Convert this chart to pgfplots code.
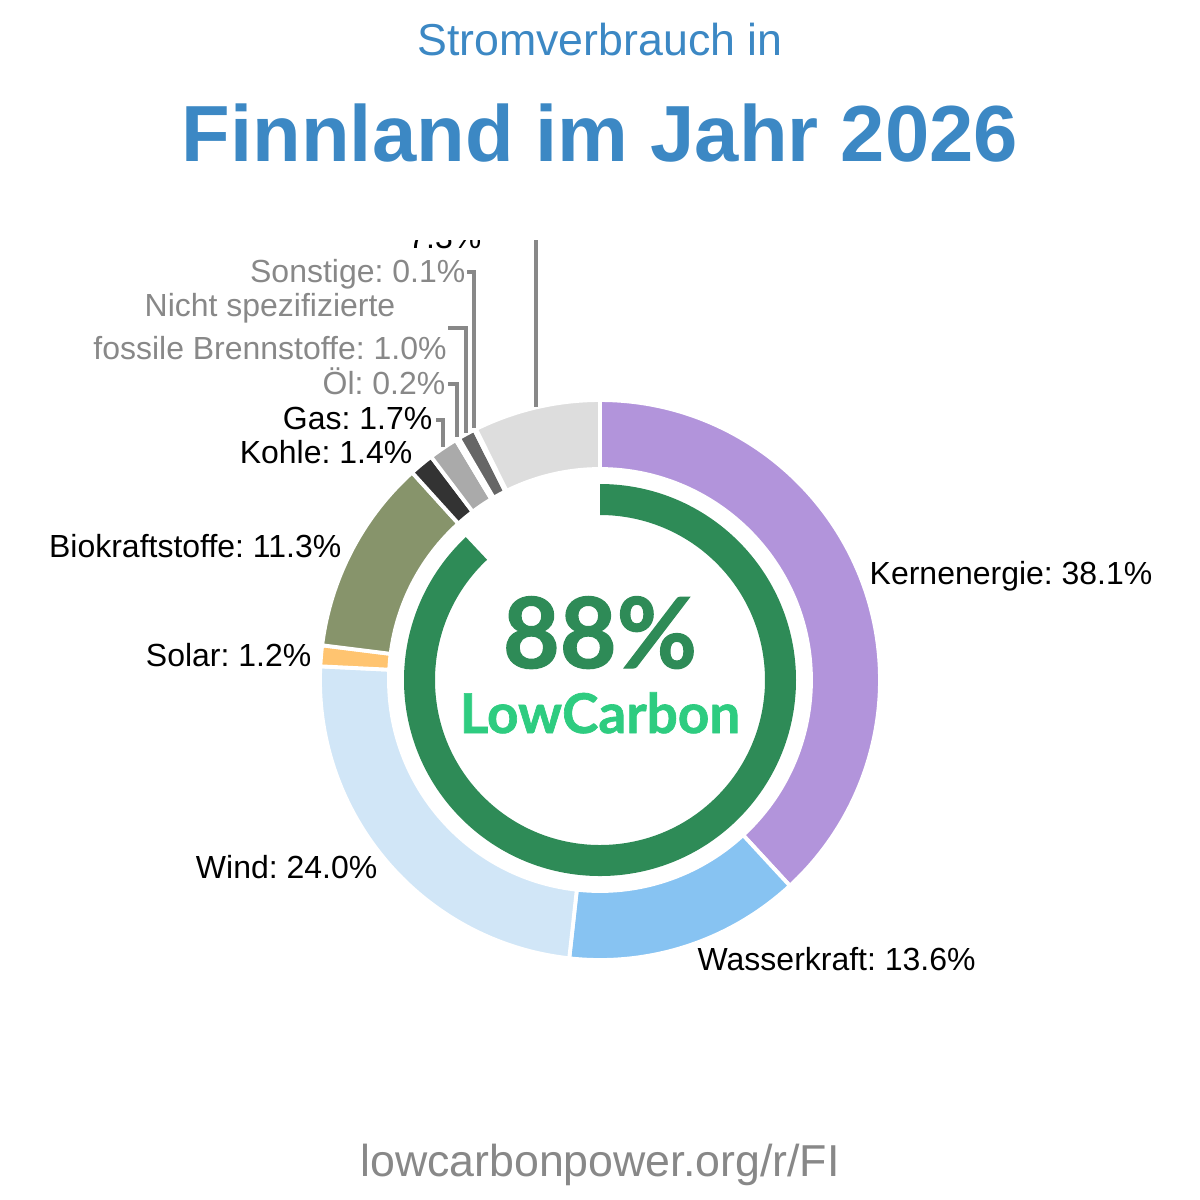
\documentclass[border=0pt]{standalone}
\usepackage{fontspec}
\setmainfont{Liberation Sans}
\newfontfamily\lato[BoldFeatures={FakeBold=1.2}]{Lato}
\usepackage{pgfplots}
\pgfplotsset{compat=1.18}
\definecolor{kern}{HTML}{B294DB}
\definecolor{wasser}{HTML}{87C3F2}
\definecolor{wind}{HTML}{D1E6F7}
\definecolor{solar}{HTML}{FFC470}
\definecolor{bio}{HTML}{87946B}
\definecolor{kohle}{HTML}{333333}
\definecolor{gas}{HTML}{AAAAAA}
\definecolor{oel}{HTML}{888888}
\definecolor{nicht}{HTML}{666666}
\definecolor{sonst}{HTML}{999999}
\definecolor{imp}{HTML}{DDDDDD}
\definecolor{lcgreen}{HTML}{2E8B57}
\definecolor{lcbright}{HTML}{2ECC80}
\definecolor{titleblue}{HTML}{3C88C4}
\definecolor{lbgrey}{HTML}{888888}
\frenchspacing
\newcommand\lbl{\fontsize{9.1pt}{12.2pt}\selectfont}
% segment: start cumulative %, end cumulative %, colour (total 99.9)
\newcommand\seg[3]{%
  \fill[#3, draw=white, line width=1.1pt]
    (axis cs:{600+280*cos(90-360/99.9*#1)},{520+280*sin(90-360/99.9*#1)})
    arc[start angle={90-360/99.9*#1}, end angle={90-360/99.9*#2}, radius=2.80cm]
    -- (axis cs:{600+211*cos(90-360/99.9*#2)},{520+211*sin(90-360/99.9*#2)})
    arc[start angle={90-360/99.9*#2}, end angle={90-360/99.9*#1}, radius=2.11cm]
    -- cycle;}
\begin{document}
\begin{tikzpicture}
\path (0,0) rectangle (12cm,12cm);
\node[anchor=base, inner sep=0, text=titleblue, font=\fontsize{12.72pt}{15pt}\selectfont] at (6cm,11.44cm) {Stromverbrauch in};
\node[anchor=base, inner sep=0, text=titleblue, font=\fontsize{22.65pt}{26pt}\selectfont\bfseries] at (6cm,10.383cm) {Finnland im Jahr 2026};
\node[anchor=base, inner sep=0, text=lbgrey, font=\fontsize{12.72pt}{15pt}\selectfont] at (6cm,0.24cm) {lowcarbonpower.org/r/FI};
\begin{axis}[at={(0,0)}, anchor=south west, scale only axis, width=12cm, height=9.6cm,
  xmin=0, xmax=1200, ymin=0, ymax=960, hide axis, clip=true]
% values: Kern 38.1, Wasser 13.6, Wind 24.0, Solar 1.2, Bio 11.3, Kohle 1.4, Gas 1.7, Oel 0.2, Nicht spez. 1.0, Sonstige 0.1, Rest 7.3
\seg{0}{38.1}{kern}
\seg{38.1}{51.7}{wasser}
\seg{51.7}{75.7}{wind}
\seg{75.7}{76.9}{solar}
\seg{76.9}{88.2}{bio}
\seg{88.2}{89.6}{kohle}
\seg{89.6}{91.3}{gas}
\seg{91.3}{91.5}{oel}
\seg{91.5}{92.5}{nicht}
\seg{92.5}{92.6}{sonst}
\seg{92.6}{99.9}{imp}
% low-carbon ring: 88 %
\fill[lcgreen] (axis cs:600,716) arc[start angle=90, end angle={90-3.6*88}, radius=1.96cm]
  -- (axis cs:{600+165*cos(90-3.6*88)},{520+165*sin(90-3.6*88)})
  arc[start angle={90-3.6*88}, end angle=90, radius=1.65cm] -- cycle;
\node[anchor=base, inner sep=0, text=lcgreen, font=\lato\bfseries\fontsize{27.9pt}{30pt}\selectfont] at (axis cs:600,532) {88\%};
\node[anchor=base, inner sep=0, text=lcbright, font=\lato\bfseries\fontsize{15.6pt}{18pt}\selectfont] at (axis cs:600,467) {LowCarbon};
% leader lines
\draw[lbgrey, line width=1pt] (axis cs:436,780) -- (axis cs:443,780) -- (axis cs:443,753);
\draw[lbgrey, line width=1pt] (axis cs:448,816) -- (axis cs:457,816) -- (axis cs:457,763);
\draw[lbgrey, line width=1pt] (axis cs:448,872) -- (axis cs:466,872) -- (axis cs:466,767);
\draw[lbgrey, line width=1pt] (axis cs:467,928) -- (axis cs:474,928) -- (axis cs:474,772);
\draw[lbgrey, line width=1pt] (axis cs:536,980) -- (axis cs:536,793);
% labels
\node[anchor=base west, inner sep=0, font=\lbl] at (axis cs:869,615.5) {Kernenergie: 38.1\%};
\node[anchor=base west, inner sep=0, font=\lbl] at (axis cs:697,229.5) {Wasserkraft: 13.6\%};
\node[anchor=base east, inner sep=0, font=\lbl] at (axis cs:378,321.5) {Wind: 24.0\%};
\node[anchor=base east, inner sep=0, font=\lbl] at (axis cs:312,533.5) {Solar: 1.2\%};
\node[anchor=base east, inner sep=0, font=\lbl] at (axis cs:342,642.5) {Biokraftstoffe: 11.3\%};
\node[anchor=base east, inner sep=0, font=\lbl] at (axis cs:413,736.5) {Kohle: 1.4\%};
\node[anchor=base east, inner sep=0, font=\lbl] at (axis cs:433,770.5) {Gas: 1.7\%};
\node[anchor=base east, inner sep=0, font=\lbl, text=lbgrey] at (axis cs:446,805.5) {Öl: 0.2\%};
\node[anchor=base, inner sep=0, font=\lbl, text=lbgrey] at (axis cs:270,840.5) {fossile Brennstoffe: 1.0\%};
\node[anchor=base, inner sep=0, font=\lbl, text=lbgrey] at (axis cs:270,883.5) {Nicht spezifizierte};
\node[anchor=base east, inner sep=0, font=\lbl, text=lbgrey] at (axis cs:466,917.5) {Sonstige: 0.1\%};
\node[anchor=base east, inner sep=0, font=\lbl] at (axis cs:482,952) {7.3\%};
\end{axis}
\end{tikzpicture}
\end{document}
